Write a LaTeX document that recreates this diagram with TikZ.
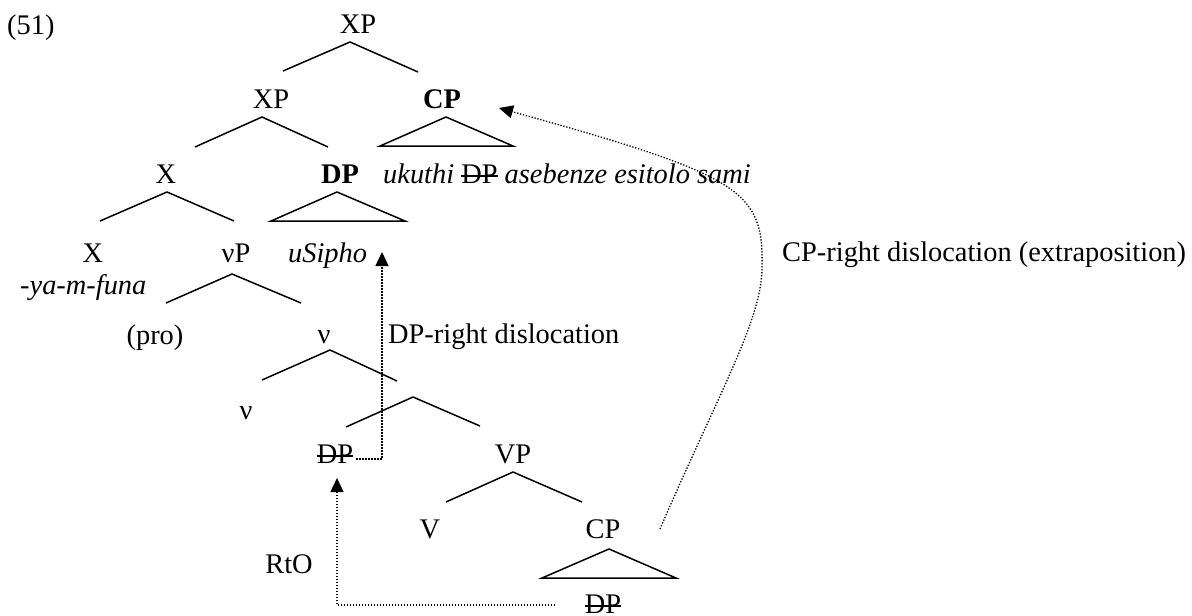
\documentclass[tikz,border=0pt]{standalone}
\usepackage{fontspec}
\setmainfont{Liberation Serif}
\usetikzlibrary{arrows.meta}
\newcommand\strk[1]{\setbox0=\hbox{#1}\rlap{\rule[0.2em]{\wd0}{0.07em}}\box0\relax}
\begin{document}
\begin{tikzpicture}[x=1pt,y=-1pt,
  lbl/.style={font=\fontsize{28.4}{32}\selectfont, inner sep=0pt, anchor=base},
  br/.style={line width=1.5pt},
  mv/.style={line width=1.3pt, dash pattern=on 1.3pt off 1.7pt},
  tip/.style={-{Triangle[length=14pt,width=13pt]}}]
\fill[white] (0,0) rectangle (1192,616);
\useasboundingbox (0,0) rectangle (1192,616);
% labels
\node[lbl, anchor=base west] (ex) at (7,34) {(51)};
\node[lbl] (xp1) at (358,33) {XP};
\node[lbl] (xp2) at (271,108) {XP};
\node[lbl] (cp1) at (442,108) {\bfseries CP};
\node[lbl] (x1) at (166,183) {X};
\node[lbl] (dp1) at (340,183) {\bfseries DP};
\node[lbl, anchor=base west] (cpt) at (383,183) {\itshape ukuthi \upshape\strk{DP} \itshape asebenze esitolo sami};
\node[lbl] (x2) at (93,262) {X};
\node[lbl] (vp) at (236,262) {νP};
\node[lbl, anchor=base west] (dpt) at (288,262) {\itshape uSipho};
\node[lbl, anchor=base west] (mor) at (20,294) {-\itshape ya-m-funa};
\node[lbl] (pro) at (155,344) {(pro)};
\node[lbl] (vbar) at (324,343) {ν};
\node[lbl, anchor=base west] (lab1) at (388,343) {DP-right dislocation};
\node[lbl] (v0) at (246,419) {ν};
\node[lbl] (dpt1) at (335,463) {\strk{DP}};
\node[lbl] (vp2) at (513,463) {VP};
\node[lbl] (vv) at (430,538) {V};
\node[lbl] (cp2) at (603,538) {CP};
\node[lbl] (dpt2) at (603,613) {\strk{DP}};
\node[lbl] (rto) at (289,573) {RtO};
\node[lbl, anchor=base west] (lab2) at (782,261) {CP-right dislocation (extraposition)};
% branch points
\coordinate (a1) at (350,42);  \coordinate (a1l) at (283,71);  \coordinate (a1r) at (418,72);
\coordinate (a2) at (262,117); \coordinate (a2l) at (195,147); \coordinate (a2r) at (328,147);
\coordinate (t1) at (446,117); \coordinate (t1l) at (380,146); \coordinate (t1r) at (513,146);
\coordinate (a3) at (167,192); \coordinate (a3l) at (100,221); \coordinate (a3r) at (234,221);
\coordinate (t2) at (337,192); \coordinate (t2l) at (271,221); \coordinate (t2r) at (405,221);
\coordinate (a4) at (232,274); \coordinate (a4l) at (166,303); \coordinate (a4r) at (301,303);
\coordinate (a5) at (330,350); \coordinate (a5l) at (262,380); \coordinate (a5r) at (397,381);
\coordinate (a6) at (413,397); \coordinate (a6l) at (346,427); \coordinate (a6r) at (480,426);
\coordinate (a7) at (513,472); \coordinate (a7l) at (446,502); \coordinate (a7r) at (582,502);
\coordinate (t3) at (609,549); \coordinate (t3l) at (542,578); \coordinate (t3r) at (676,578);
\draw[br] (a1l) -- (a1) -- (a1r);
\draw[br] (a2l) -- (a2) -- (a2r);
\draw[br] (t1l) -- (t1) -- (t1r) -- cycle;
\draw[br] (a3l) -- (a3) -- (a3r);
\draw[br] (t2l) -- (t2) -- (t2r) -- cycle;
\draw[br] (a4l) -- (a4) -- (a4r);
\draw[br] (a5l) -- (a5) -- (a5r);
\draw[br] (a6l) -- (a6) -- (a6r);
\draw[br] (a7l) -- (a7) -- (a7r);
\draw[br] (t3l) -- (t3) -- (t3r) -- cycle;
% movement arrows
\coordinate (m1) at (382,459);
\coordinate (m1tip) at (382,252);
\draw[mv, tip] ([xshift=3pt]dpt1.east |- m1) -- (m1) -- (m1tip);
\coordinate (b1) at (555,605);
\coordinate (b2) at (337,605);
\coordinate (b3) at (337,478);
\draw[mv, tip] (b1) -- (b2) -- (b3);
\coordinate (c0) at (660,529);
\coordinate (c1) at (762,267);
\coordinate (c2) at (499,108);
\draw[mv, tip] (c0) .. controls (720,390) and (762,320) .. (c1) .. controls (764,190) and (740,175) .. (c2);
\end{tikzpicture}
\end{document}
